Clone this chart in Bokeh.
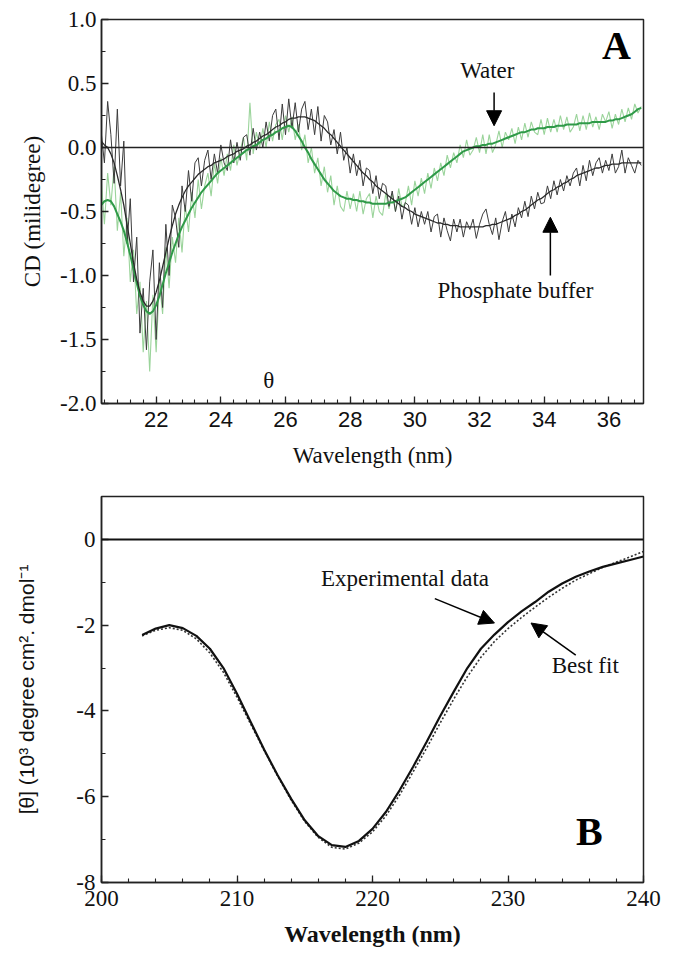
import numpy as np
from bokeh.plotting import figure
from bokeh.layouts import column
from bokeh.models import (SingleIntervalTicker, Arrow, NormalHead,
                          Range1d, Span, ColumnDataSource)
from bokeh.core.properties import value
from bokeh.embed import file_html
from bokeh.resources import INLINE

SERIF = "Liberation Serif"
SANS = "Liberation Sans"

# ---------------- Panel A data (wavelength grid start/step, CD in millidegree)
wl_start = 20.3
wl_step = 0.1

phosphate_raw = [
    0.12, -0.12, 0.36, 0.1, -0.28, 0.3, -0.3, 0.05, -0.75, -0.4,          # 20.3
    -1.05, -0.7, -1.45, -1.1, -1.58, -1.05, -0.8, -1.5, -0.9, -1.25,      # 21.3
    -0.6, -1.0, -0.45, -0.55, -0.78, -0.3, -0.5, -0.18, -0.42, -0.12,     # 22.3
    -0.08, -0.3, -0.1, -0.02, -0.25, -0.05, -0.2, 0.02, -0.12, -0.18,     # 23.3
    0.06, -0.12, 0.04, -0.1, 0.08, 0.1, -0.06, 0.15, -0.02, 0.12,         # 24.3
    0.0, 0.2, 0.05, 0.25, 0.3, 0.06, 0.34, 0.1, 0.38, 0.15,               # 25.3
    0.35, 0.12, 0.3, 0.36, 0.14, 0.3, 0.1, 0.32, 0.05, 0.25,              # 26.3
    0.2, 0.02, 0.14, -0.05, 0.12, -0.1, 0.0, -0.2, -0.05, -0.22,          # 27.3
    -0.1, -0.3, -0.16, -0.18, -0.36, -0.22, -0.4, -0.28, -0.3, -0.46,     # 28.3
    -0.34, -0.5, -0.38, -0.56, -0.43, -0.45, -0.6, -0.47, -0.62, -0.5,    # 29.3
    -0.6, -0.5, -0.66, -0.54, -0.52, -0.7, -0.55, -0.65, -0.73, -0.56,    # 30.3
    -0.66, -0.56, -0.7, -0.58, -0.64, -0.56, -0.71, -0.6, -0.52, -0.48,   # 31.3
    -0.6, -0.68, -0.55, -0.72, -0.58, -0.5, -0.66, -0.52, -0.62, -0.47,   # 32.3
    -0.55, -0.42, -0.54, -0.38, -0.48, -0.35, -0.44, -0.43, -0.3, -0.4,   # 33.3
    -0.26, -0.37, -0.25, -0.34, -0.22, -0.3, -0.2, -0.16, -0.3, -0.14,    # 34.3
    -0.26, -0.1, -0.22, -0.12, -0.08, -0.2, -0.1, -0.18, -0.05, -0.2,     # 35.3
    -0.15, -0.02, -0.2, -0.08, -0.14, -0.2, -0.1, -0.14,                  # 36.3
]

phosphate_smooth = [
    0.05, 0.02, 0.0, -0.05, -0.12, -0.22, -0.33, -0.45, -0.6, -0.75,
    -0.9, -1.03, -1.13, -1.2, -1.24, -1.24, -1.2, -1.13, -1.04, -0.93,
    -0.82, -0.71, -0.61, -0.52, -0.45, -0.39, -0.34, -0.3, -0.27, -0.24,
    -0.21, -0.19, -0.17, -0.15, -0.14, -0.12, -0.11, -0.1, -0.09, -0.07,
    -0.06, -0.05, -0.03, -0.02, -0.01, 0.01, 0.02, 0.04, 0.05, 0.07,
    0.09, 0.1, 0.12, 0.14, 0.16, 0.17, 0.19, 0.2, 0.22, 0.23,
    0.23, 0.24, 0.24, 0.24, 0.23, 0.22, 0.21, 0.19, 0.17, 0.15,
    0.12, 0.1, 0.07, 0.04, 0.01, -0.02, -0.05, -0.08, -0.11, -0.14,
    -0.17, -0.2, -0.22, -0.25, -0.27, -0.3, -0.32, -0.34, -0.36, -0.38,
    -0.4, -0.42, -0.44, -0.46, -0.47, -0.49, -0.5, -0.52, -0.53, -0.54,
    -0.55, -0.56, -0.57, -0.58, -0.59, -0.59, -0.6, -0.6, -0.61, -0.61,
    -0.61, -0.62, -0.62, -0.62, -0.62, -0.62, -0.62, -0.62, -0.62, -0.61,
    -0.61, -0.6, -0.6, -0.59, -0.58, -0.57, -0.56, -0.55, -0.53, -0.52,
    -0.5, -0.49, -0.47, -0.45, -0.43, -0.41, -0.4, -0.38, -0.36, -0.34,
    -0.33, -0.31, -0.3, -0.28, -0.27, -0.25, -0.24, -0.22, -0.21, -0.2,
    -0.19, -0.18, -0.17, -0.16, -0.16, -0.15, -0.14, -0.14, -0.13, -0.13,
    -0.13, -0.12, -0.12, -0.12, -0.12, -0.12, -0.12, -0.12,
]

water_raw = [
    -0.25, -0.6, -0.2, -0.45, -0.15, -0.65, -0.35, -0.85, -0.55, -1.05,   # 20.3
    -0.8, -1.3, -1.05, -1.6, -1.2, -1.75, -1.15, -1.6, -1.05, -1.3,       # 21.3
    -0.78, -1.1, -0.7, -0.9, -0.55, -0.82, -0.45, -0.66, -0.35, -0.55,    # 22.3
    -0.25, -0.48, -0.3, -0.2, -0.38, -0.12, -0.28, -0.08, -0.22, -0.05,   # 23.3
    -0.18, 0.02, -0.14, -0.02, 0.08, -0.1, 0.35, -0.05, 0.12, 0.0,        # 24.3
    0.15, 0.0, 0.2, 0.05, 0.18, 0.22, 0.06, 0.25, 0.12, 0.24,             # 25.3
    0.06, 0.18, -0.02, 0.1, -0.12, 0.0, -0.2, -0.08, -0.3, -0.15,         # 26.3
    -0.35, -0.22, -0.45, -0.3, -0.46, -0.5, -0.34, -0.48, -0.36, -0.5,    # 27.3
    -0.34, -0.52, -0.4, -0.36, -0.55, -0.38, -0.5, -0.53, -0.36, -0.48,   # 28.3
    -0.36, -0.5, -0.32, -0.46, -0.44, -0.3, -0.45, -0.26, -0.38, -0.24,   # 29.3
    -0.36, -0.2, -0.32, -0.16, -0.26, -0.12, -0.22, -0.06, -0.16, -0.04,  # 30.3
    -0.12, 0.02, -0.08, 0.06, -0.06, -0.02, 0.08, -0.04, 0.1, -0.05,      # 31.3
    0.1, -0.04, 0.02, 0.13, 0.0, 0.12, 0.06, 0.15, 0.03, 0.16,            # 32.3
    0.06, 0.19, 0.08, 0.2, 0.12, 0.1, 0.22, 0.1, 0.23, 0.12,              # 33.3
    0.22, 0.12, 0.25, 0.14, 0.24, 0.12, 0.16, 0.26, 0.13, 0.25,           # 34.3
    0.14, 0.27, 0.16, 0.24, 0.14, 0.26, 0.2, 0.28, 0.15, 0.26,            # 35.3
    0.18, 0.3, 0.2, 0.31, 0.22, 0.34, 0.27, 0.32,                         # 36.3
]

water_smooth = [
    -0.45, -0.42, -0.41, -0.42, -0.46, -0.52, -0.58, -0.65, -0.74, -0.84,
    -0.95, -1.06, -1.16, -1.23, -1.28, -1.3, -1.28, -1.23, -1.16, -1.07,
    -0.98, -0.9, -0.82, -0.75, -0.68, -0.62, -0.57, -0.52, -0.47, -0.43,
    -0.39, -0.35, -0.32, -0.29, -0.26, -0.23, -0.2, -0.18, -0.16, -0.14,
    -0.12, -0.1, -0.08, -0.06, -0.04, -0.02, -0.01, 0.01, 0.02, 0.04,
    0.06, 0.07, 0.09, 0.1, 0.12, 0.13, 0.15, 0.16, 0.17, 0.16,
    0.13, 0.09, 0.05, 0.0, -0.04, -0.09, -0.13, -0.17, -0.21, -0.25,
    -0.28, -0.31, -0.34, -0.36, -0.38, -0.39, -0.4, -0.4, -0.41, -0.41,
    -0.42, -0.42, -0.43, -0.43, -0.44, -0.44, -0.44, -0.44, -0.44, -0.43,
    -0.43, -0.42, -0.41, -0.4, -0.39, -0.37, -0.35, -0.33, -0.31, -0.29,
    -0.27, -0.25, -0.23, -0.21, -0.19, -0.17, -0.15, -0.13, -0.11, -0.09,
    -0.07, -0.05, -0.03, -0.02, -0.01, 0.0, 0.01, 0.01, 0.02, 0.02,
    0.03, 0.03, 0.04, 0.05, 0.06, 0.07, 0.08, 0.09, 0.1, 0.11,
    0.12, 0.12, 0.13, 0.14, 0.14, 0.15, 0.15, 0.15, 0.16, 0.16,
    0.16, 0.17, 0.17, 0.17, 0.18, 0.18, 0.18, 0.18, 0.19, 0.19,
    0.19, 0.19, 0.2, 0.2, 0.2, 0.2, 0.2, 0.21, 0.21, 0.22,
    0.22, 0.23, 0.24, 0.25, 0.26, 0.28, 0.3, 0.31,
]

a_x_ticks = [22, 24, 26, 28, 30, 32, 34, 36]
a_x_labels = ["22", "24", "26", "28", "30", "32", "34", "36"]
a_y_ticks = [1.0, 0.5, 0.0, -0.5, -1.0, -1.5, -2.0]
a_y_labels = ["1.0", "0.5", "0.0", "-0.5", "-1.0", "-1.5", "-2.0"]

# ---------------- Panel B data
b_wavelength = [203, 204, 205, 206, 207, 208, 209, 210, 211, 212, 213, 214, 215,
                216, 217, 218, 219, 220, 221, 222, 223, 224, 225, 226, 227, 228,
                229, 230, 231, 232, 233, 234, 235, 236, 237, 238, 239, 240]
b_experimental = [-2.23, -2.08, -2.0, -2.07, -2.25, -2.55, -3.0, -3.6, -4.25, -4.9,
                  -5.5, -6.05, -6.55, -6.92, -7.13, -7.17, -7.03, -6.75, -6.35, -5.85,
                  -5.3, -4.72, -4.12, -3.55, -3.0, -2.55, -2.22, -1.93, -1.68, -1.46,
                  -1.22, -1.03, -0.87, -0.75, -0.64, -0.56, -0.48, -0.4]
b_best_fit = [-2.25, -2.12, -2.06, -2.12, -2.32, -2.65, -3.1, -3.68, -4.3, -4.92,
              -5.52, -6.08, -6.58, -6.95, -7.18, -7.22, -7.08, -6.82, -6.44, -5.96,
              -5.42, -4.86, -4.28, -3.72, -3.2, -2.75, -2.38, -2.08, -1.82, -1.58,
              -1.35, -1.14, -0.95, -0.8, -0.65, -0.53, -0.41, -0.28]
b_x_ticks = [200, 210, 220, 230, 240]
b_x_labels = ["200", "210", "220", "230", "240"]
b_y_ticks = [0, -2, -4, -6, -8]
b_y_labels = ["0", "-2", "-4", "-6", "-8"]

n = len(phosphate_raw)
wl = np.round(wl_start + wl_step * np.arange(n), 2)


def style_axes(p, xfont, yfont, xsize, ysize):
    for ax in p.xaxis + p.yaxis:
        ax.axis_line_width = 1.5
        ax.axis_line_color = "#222222"
        ax.major_tick_line_color = "#222222"
        ax.minor_tick_line_color = "#222222"
        ax.major_tick_line_width = 1.3
        ax.minor_tick_line_width = 1.1
        ax.major_tick_in = 7
        ax.major_tick_out = 0
        ax.minor_tick_in = 4
        ax.minor_tick_out = 0
        ax.major_label_text_color = "#111111"
        ax.axis_label_text_color = "#111111"
    for ax in p.xaxis:
        ax.major_label_text_font = xfont
        ax.major_label_text_font_size = xsize
    for ax in p.yaxis:
        ax.major_label_text_font = yfont
        ax.major_label_text_font_size = ysize
    p.xgrid.visible = False
    p.ygrid.visible = False
    p.outline_line_color = "#222222"
    p.outline_line_width = 1.5
    p.background_fill_color = "white"
    p.border_fill_color = "white"


# ---------------- Panel A
p1 = figure(width=666, height=480, x_range=Range1d(20.31, 37.07),
            y_range=Range1d(-2.0, 1.0), output_backend="svg",
            toolbar_location=None, min_border_left=101, min_border_right=23,
            min_border_top=19, min_border_bottom=77)
p1.xaxis.ticker = SingleIntervalTicker(interval=2, num_minor_ticks=5)
p1.yaxis.ticker = SingleIntervalTicker(interval=0.5, num_minor_ticks=2)
p1.xaxis.major_label_overrides = dict(zip(a_x_ticks, a_x_labels))
p1.yaxis.major_label_overrides = dict(zip(a_y_ticks, a_y_labels))
style_axes(p1, SANS, SERIF, "22px", "23px")
p1.xaxis.major_label_standoff = 8
p1.yaxis.major_label_standoff = 5
p1.xaxis.axis_label = "Wavelength (nm)"
p1.yaxis.axis_label = "CD (milidegree)"
for ax in p1.xaxis + p1.yaxis:
    ax.axis_label_text_font = SERIF
    ax.axis_label_text_font_style = "normal"
    ax.axis_label_text_font_size = "23px"
p1.xaxis.axis_label_standoff = 13
p1.yaxis.axis_label_standoff = 12

p1.add_layout(Span(location=0, dimension="width", line_color="#222222", line_width=1.5))

src_a = ColumnDataSource(dict(wl=wl, pr=phosphate_raw, ps=phosphate_smooth,
                              wr=water_raw, ws=water_smooth))
p1.line("wl", "wr", source=src_a, line_color="#9bd49b", line_width=1.1)
p1.line("wl", "pr", source=src_a, line_color="#3c3c3c", line_width=1.0)
p1.line("wl", "ws", source=src_a, line_color="#2f9a48", line_width=2.0)
p1.line("wl", "ps", source=src_a, line_color="#2a2a2a", line_width=1.3)

a_text = ["Water", "Phosphate buffer", "θ"]
a_text_x = [32.24, 33.11, 25.48]
a_text_y = [0.6, -1.12, -1.82]
p1.text(x=a_text_x, y=a_text_y, text=a_text, text_font=value(SERIF),
        text_font_size="23px", text_align="center", text_baseline="middle",
        text_color="#111111")
p1.text(x=[36.23], y=[0.80], text=["A"], text_font=value(SERIF),
        text_font_size="40px", text_font_style="bold", text_align="center",
        text_baseline="middle", text_color="#000000")

p1.add_layout(Arrow(end=NormalHead(size=15, fill_color="black", line_color="black"),
                    x_start=32.45, y_start=0.43, x_end=32.45, y_end=0.17,
                    line_width=1.5, line_color="black"))
p1.add_layout(Arrow(end=NormalHead(size=15, fill_color="black", line_color="black"),
                    x_start=34.19, y_start=-1.0, x_end=34.19, y_end=-0.545,
                    line_width=1.5, line_color="black"))

# ---------------- Panel B
p2 = figure(width=666, height=474, x_range=Range1d(200, 240),
            y_range=Range1d(-8, 1.0), output_backend="svg",
            toolbar_location=None, min_border_left=101, min_border_right=23,
            min_border_top=16, min_border_bottom=72)
p2.xaxis.ticker = SingleIntervalTicker(interval=10, num_minor_ticks=5)
p2.yaxis.ticker = SingleIntervalTicker(interval=2, num_minor_ticks=2)
p2.xaxis.major_label_overrides = dict(zip(b_x_ticks, b_x_labels))
p2.yaxis.major_label_overrides = dict(zip(b_y_ticks, b_y_labels))
style_axes(p2, SERIF, SERIF, "23px", "23px")
p2.xaxis.major_label_standoff = 8
p2.yaxis.major_label_standoff = 6
p2.xaxis.axis_label = "Wavelength (nm)"
p2.xaxis.axis_label_text_font = SERIF
p2.xaxis.axis_label_text_font_style = "bold"
p2.xaxis.axis_label_text_font_size = "24px"
p2.xaxis.axis_label_standoff = 12
p2.yaxis.axis_label = "[θ] (10³ degree cm². dmol⁻¹"
p2.yaxis.axis_label_text_font = SANS
p2.yaxis.axis_label_text_font_style = "normal"
p2.yaxis.axis_label_text_font_size = "21px"
p2.yaxis.axis_label_standoff = 35

p2.add_layout(Span(location=0, dimension="width", line_color="#111111", line_width=2))

src_b = ColumnDataSource(dict(wl=b_wavelength, exp=b_experimental, fit=b_best_fit))
p2.line("wl", "fit", source=src_b, line_color="#333333", line_width=1.6, line_dash="2 2")
p2.line("wl", "exp", source=src_b, line_color="#111111", line_width=2.2)

b_text = ["Experimental data", "Best fit"]
b_text_x = [222.4, 235.7]
b_text_y = [-0.91, -2.94]
p2.text(x=b_text_x, y=b_text_y, text=b_text, text_font=value(SERIF),
        text_font_size="23px", text_align="center", text_baseline="middle",
        text_color="#111111")
p2.text(x=[236.0], y=[-6.8], text=["B"], text_font=value(SERIF),
        text_font_size="40px", text_font_style="bold", text_align="center",
        text_baseline="middle", text_color="#000000")

p2.add_layout(Arrow(end=NormalHead(size=15, fill_color="black", line_color="black"),
                    x_start=224.6, y_start=-1.38, x_end=229.0, y_end=-1.95,
                    line_width=1.5, line_color="black"))
p2.add_layout(Arrow(end=NormalHead(size=15, fill_color="black", line_color="black"),
                    x_start=235.0, y_start=-2.70, x_end=231.7, y_end=-1.95,
                    line_width=1.5, line_color="black"))

layout = column(p1, p2, spacing=0)
open("out.html", "w").write(file_html(layout, INLINE))
